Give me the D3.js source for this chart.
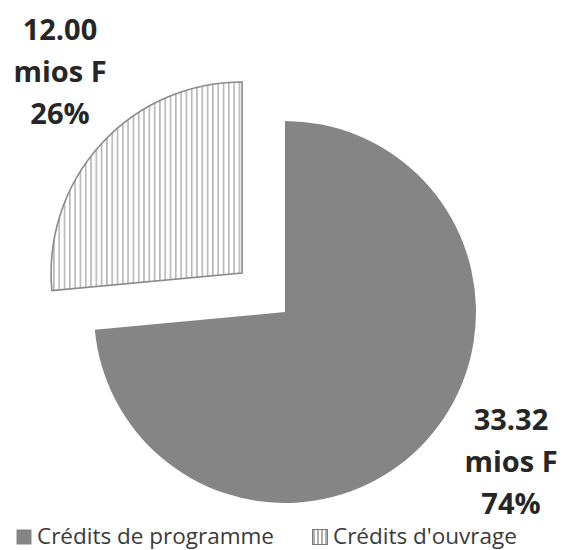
<!DOCTYPE html>
<html>
<head>
<meta charset="utf-8">
<script src="https://cdn.jsdelivr.net/npm/d3@7"></script>
<style>
  html, body { margin: 0; padding: 0; background: #fff; }
  svg { display: block; }
</style>
</head>
<body>
<svg id="chart" width="564" height="550"></svg>
<script>
// Budget split (millions of francs)
const categories = ["Crédits de programme", "Crédits d'ouvrage"];
const values = [33.32, 12.00];
const percentLabels = ["74%", "26%"];
const valueLabels = ["33.32", "12.00"];
const unitLabel = "mios F";

const width = 564, height = 550;
const cx = 285, cy = 312, radius = 191;
const explode = [0, 58];

const svg = d3.select("#chart");

// vertical hatch used for the second slice
const defs = svg.append("defs");
const pat = defs.append("pattern")
  .attr("id", "vhatch")
  .attr("patternUnits", "userSpaceOnUse")
  .attr("width", 5.3).attr("height", 10);
pat.append("rect").attr("width", 5.3).attr("height", 10).attr("fill", "#fff");
pat.append("line")
  .attr("x1", 2.6).attr("x2", 2.6).attr("y1", 0).attr("y2", 10)
  .attr("stroke", "#8a8a8a").attr("stroke-width", 1);

const legendPat = defs.append("pattern")
  .attr("id", "vhatchSmall")
  .attr("patternUnits", "userSpaceOnUse")
  .attr("width", 4).attr("height", 10);
legendPat.append("rect").attr("width", 4).attr("height", 10).attr("fill", "#fff");
legendPat.append("line")
  .attr("x1", 2).attr("x2", 2).attr("y1", 0).attr("y2", 10)
  .attr("stroke", "#7a7a7a").attr("stroke-width", 1.2);

const fills = ["#858586", "url(#vhatch)"];
const strokes = ["none", "#8a8a8a"];

const pie = d3.pie().sort(null).value(d => d)(values);
const arc = d3.arc().innerRadius(0).outerRadius(radius);

const g = svg.append("g").attr("transform", `translate(${cx},${cy})`);

g.selectAll("path.slice")
  .data(pie)
  .join("path")
  .attr("class", "slice")
  .attr("transform", (d, i) => {
    const mid = (d.startAngle + d.endAngle) / 2;
    const off = explode[i];
    return `translate(${off * Math.sin(mid)},${-off * Math.cos(mid)})`;
  })
  .attr("d", arc)
  .attr("fill", (d, i) => fills[i])
  .attr("stroke", (d, i) => strokes[i])
  .attr("stroke-width", 1.6)
  .attr("stroke-linejoin", "miter");

// data labels
const labelPos = [
  { x: 511, y: 430 },
  { x: 60, y: 40 }
];
const lineGap = 42;
labelPos.forEach((p, i) => {
  const t = svg.append("text")
    .attr("text-anchor", "middle")
    .attr("font-family", "'Open Sans', sans-serif")
    .attr("font-weight", "bold")
    .attr("font-size", 29)
    .attr("fill", "#262626");
  [valueLabels[i], unitLabel, percentLabels[i]].forEach((s, k) => {
    t.append("tspan").attr("x", p.x).attr("y", p.y + k * lineGap).text(s);
  });
});

// legend
const legendItems = [
  { x: 16, fill: fills[0], stroke: "none" },
  { x: 312, fill: "url(#vhatchSmall)", stroke: "#7a7a7a" }
];
const legend = svg.append("g");
legendItems.forEach((it, i) => {
  legend.append("rect")
    .attr("x", it.x + 0.5).attr("y", 529.5)
    .attr("width", 15).attr("height", 15)
    .attr("fill", it.fill)
    .attr("stroke", it.stroke).attr("stroke-width", 1);
  legend.append("text")
    .attr("x", it.x + 21).attr("y", 544)
    .attr("font-family", "'Open Sans', sans-serif")
    .attr("font-size", 22.5)
    .attr("fill", "#3a3a3a")
    .text(categories[i]);
});
</script>
</body>
</html>
